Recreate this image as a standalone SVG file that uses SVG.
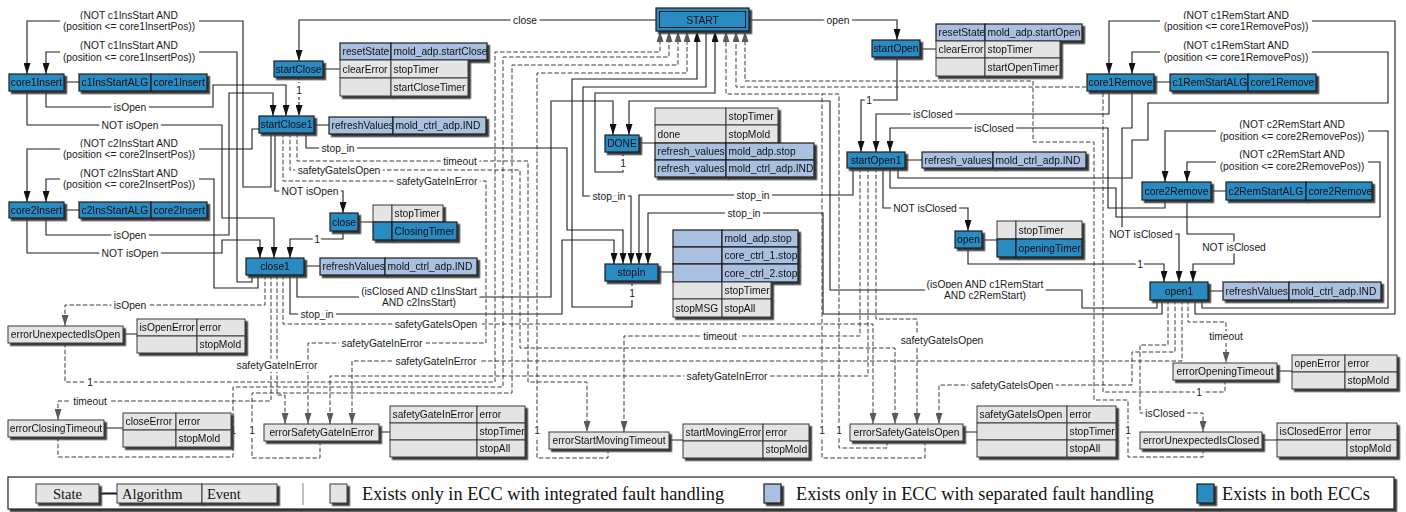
<svg xmlns="http://www.w3.org/2000/svg" width="1406" height="512" viewBox="0 0 1406 512">
<defs>
<filter id="sh" x="-10%" y="-20%" width="130%" height="170%"><feDropShadow dx="2.5" dy="2.5" stdDeviation="0" flood-color="#3c3c3c" flood-opacity="1"/></filter>
<marker id="ab" viewBox="0 0 10 10" refX="10" refY="5" markerWidth="11" markerHeight="7" markerUnits="userSpaceOnUse" orient="auto" preserveAspectRatio="none"><path d="M0,0 L10,5 L0,10 z" fill="#111"/></marker>
<marker id="ag" viewBox="0 0 10 10" refX="10" refY="5" markerWidth="11" markerHeight="7" markerUnits="userSpaceOnUse" orient="auto" preserveAspectRatio="none"><path d="M0,0 L10,5 L0,10 z" fill="#5a5a5a"/></marker>
<style>
.st{fill:#2a8ac2;stroke:#1b1b1b;stroke-width:1.2}
.lb{fill:#a9c0e0;stroke:#1b1b1b;stroke-width:1.2}
.gy{fill:#e4e4e4;stroke:#3a3a3a;stroke-width:1}
.t{font-family:"Liberation Sans",Arial,sans-serif;font-size:10.25px;fill:#111}
.c{text-anchor:middle}
.l{font-family:"Liberation Sans",Arial,sans-serif;font-size:10.25px;fill:#1a1a1a;text-anchor:middle;stroke:#fff;stroke-width:6;stroke-linejoin:round;paint-order:stroke}
.w{fill:none;stroke:#1e1e1e;stroke-width:1.1}
.wa{marker-end:url(#ab)}
.d{fill:none;stroke:#3a3a3a;stroke-width:1;stroke-dasharray:4.5 2.2}
.da{marker-end:url(#ag)}
.sw{filter:url(#sh)}
.bg{fill:#fff}
.lg{font-family:"Liberation Serif","Times New Roman",serif;fill:#111}
</style>
</defs>
<rect width="1406" height="512" fill="#fff"/>

<g id="connectors">
<path class="w wa" d="M656,20 H299 V61"/>
<path class="w wa" d="M749,20 H897 V40"/>
<path class="w wa" d="M299,77 V116" style="stroke-dasharray:3 2"/>
<path class="w wa" d="M897,57 V100 H861 V152"/>
<path class="w wa" d="M271,133 V187 H243 V21 H27 V74"/>
<path class="w wa" d="M252,275 V282 H237 V52 H46 V74"/>
<path class="w wa" d="M259,129 H252 V149 H27 V202"/>
<path class="w wa" d="M258,275 V288 H214 V179 H46 V202"/>
<path class="w wa" d="M46,91 V107 H213 V85 H286 V116"/>
<path class="w wa" d="M27,91 V125 H222 V218 H274 V258"/>
<path class="w wa" d="M46,218 V235 H229 V93 H273 V116"/>
<path class="w wa" d="M27,218 V253 H222 V240 H260 V258"/>
<path class="w wa" d="M275,133 V191 H343 V213"/>
<path class="w wa" d="M343,231 V239 H290 V258"/>
<path class="w wa" d="M306,133 V148 H567 V230 H623 V264"/>
<path class="w wa" d="M290,275 V314 H562 V240 H614 V264"/>
<path class="w wa" d="M706,31 V87 H583 V196 H631 V264"/>
<path class="w wa" d="M853,168 V195 H639 V264"/>
<path class="w wa" d="M1162,300 V314 H823 V213 H648 V264"/>
<path class="w wa" d="M1157,300 V308 H1082 V290 H830 V101 H629 V135"/>
<path class="w wa" d="M297,275 V297 H551 V101 H613 V135"/>
<path class="w wa" d="M632,281 V307 H572 V79 H697 V31"/>
<path class="w wa" d="M623,152 V172 H595 V93 H715 V31"/>
<path class="w wa" d="M883,168 V208 H968 V231"/>
<path class="w wa" d="M968,248 V264 H1164 V282"/>
<path class="w wa" d="M1109,91 V114 H876 V152"/>
<path class="w wa" d="M1165,200 V208 H1108 V128 H890 V152"/>
<path class="w wa" d="M1132,91 V128 H1122 V234 H1179 V282"/>
<path class="w wa" d="M1187,200 V234 H1234 V264 H1193 V282"/>
<path class="w wa" d="M898,168 V178 H1132 V140 H1148 V103 H1388 V52 H1132 V74"/>
<path class="w wa" d="M1195,300 V314 H1395 V21 H1109 V74"/>
<path class="w wa" d="M1202,300 V308 H1388 V131 H1165 V182"/>
<path class="w wa" d="M890,168 V188 H1116 V217 H1380 V162 H1187 V182"/>

<path class="d da" d="M297,133 V161 H528 V382 H587 V432"/>
<path class="d da" d="M290,133 V170 H520 V348 H895 V424"/>
<path class="d da" d="M283,133 V181 H486 V343 H308 V424"/>
<path class="d da" d="M265,275 V305 H65 V326"/>
<path class="d da" d="M271,275 V401 H58 V420"/>
<path class="d da" d="M277,275 V395 H285 V424"/>
<path class="d da" d="M283,275 V324 H873 V424"/>
<path class="d da" d="M860,168 V336 H624 V432"/>
<path class="d da" d="M868,168 V376 H330 V424"/>
<path class="d da" d="M876,168 V319 H917 V424"/>
<path class="d da" d="M1168,300 V345 H1140 V413 H1203 V432"/>
<path class="d da" d="M1175,300 V352 H1132 V385 H939 V424"/>
<path class="d da" d="M1182,300 V361 H352 V424"/>
<path class="d da" d="M1188,300 V322 H1226 V363"/>
<path class="d da" d="M65,343 V382 H495 V52 H660 V31"/>
<path class="d da" d="M58,437 V457 H233 V387 H503 V57 H669 V31"/>
<path class="d da" d="M320,441 V458 H252 V393 H512 V65 H678 V31"/>
<path class="d da" d="M608,449 V458 H537 V73 H687 V31"/>
<path class="d da" d="M887,441 V448 H839 V94 H726 V31"/>
<path class="d" d="M925,441 V458 H822 V94"/>
<path class="d da" d="M1225,380 V392 H1103 V87 H736 V31"/>
<path class="d da" d="M1203,449 V457 H1128 V400 H1094 V142 H1033 V81 H745 V31"/>

<path class="w" d="M323,69 H340 M920,49 H936 M64,82 H79 M64,210 H79 M1154,82 H1170 M1211,191 H1226 M314,125 H329 M905,160 H922 M304,266 H320 M1208,291 H1223 M639,143 H655 M658,272 H673 M358,222 H373 M982,240 H997 M123,334 H137 M104,428 H123 M379,432 H390 M669,440 H683 M963,432 H977 M1277,371 H1292 M1262,440 H1277"/>

<rect class="bg" x="60" y="10" width="139" height="23"/>
<rect class="bg" x="60" y="40" width="139" height="23"/>
<rect class="bg" x="60" y="138" width="139" height="23"/>
<rect class="bg" x="60" y="168" width="139" height="23"/>
<rect class="bg" x="1160" y="10" width="152" height="23"/>
<rect class="bg" x="1160" y="40" width="152" height="23"/>
<rect class="bg" x="1216" y="119" width="152" height="24"/>
<rect class="bg" x="1216" y="149" width="152" height="24"/>
<rect class="bg" x="359" y="284" width="120" height="24"/>
<rect class="bg" x="925" y="278" width="120" height="24"/>

<text class="l" x="525" y="23.6">close</text>
<text class="l" x="838" y="23.6">open</text>
<text class="l" x="129" y="18.6">(NOT c1InsStart AND</text>
<text class="l" x="129" y="29.6">(position &lt;= core1InsertPos))</text>
<text class="l" x="129" y="48.6">(NOT c1InsStart AND</text>
<text class="l" x="129" y="60.6">(position &lt;= core1InsertPos))</text>
<text class="l" x="129" y="146.6">(NOT c2InsStart AND</text>
<text class="l" x="129" y="157.6">(position &lt;= core2InsertPos))</text>
<text class="l" x="129" y="176.6">(NOT c2InsStart AND</text>
<text class="l" x="129" y="187.6">(position &lt;= core2InsertPos))</text>
<text class="l" x="130" y="110.6">isOpen</text>
<text class="l" x="130" y="128.6">NOT isOpen</text>
<text class="l" x="130" y="238.6">isOpen</text>
<text class="l" x="130" y="256.6">NOT isOpen</text>
<text class="l" x="299" y="93.6">1</text>
<text class="l" x="310" y="194.6">NOT isOpen</text>
<text class="l" x="317" y="242.6">1</text>
<text class="l" x="338" y="151.6">stop_in</text>
<text class="l" x="317" y="317.6">stop_in</text>
<text class="l" x="609" y="199.6">stop_in</text>
<text class="l" x="753" y="198.6">stop_in</text>
<text class="l" x="744" y="216.6">stop_in</text>
<text class="l" x="985" y="287.6">(isOpen AND c1RemStart</text>
<text class="l" x="985" y="298.6">AND c2RemStart)</text>
<text class="l" x="419" y="294.6">(isClosed AND c1InsStart</text>
<text class="l" x="419" y="305.6">AND c2InsStart)</text>
<text class="l" x="632" y="296.6">1</text>
<text class="l" x="623" y="166.6">1</text>
<text class="l" x="925" y="211.6">NOT isClosed</text>
<text class="l" x="1140" y="267.6">1</text>
<text class="l" x="933" y="117.6">isClosed</text>
<text class="l" x="994" y="131.6">isClosed</text>
<text class="l" x="1141" y="237.6">NOT isClosed</text>
<text class="l" x="1234" y="250.6">NOT isClosed</text>
<text class="l" x="869" y="103.6">1</text>
<text class="l" x="1236" y="18.6">(NOT c1RemStart AND</text>
<text class="l" x="1236" y="29.6">(position &lt;= core1RemovePos))</text>
<text class="l" x="1236" y="48.6">(NOT c1RemStart AND</text>
<text class="l" x="1236" y="60.6">(position &lt;= core1RemovePos))</text>
<text class="l" x="1292" y="127.6">(NOT c2RemStart AND</text>
<text class="l" x="1292" y="139.6">(position &lt;= core2RemovePos))</text>
<text class="l" x="1292" y="157.6">(NOT c2RemStart AND</text>
<text class="l" x="1292" y="169.6">(position &lt;= core2RemovePos))</text>
<text class="l" x="460" y="164.6">timeout</text>
<text class="l" x="339" y="173.6">safetyGateIsOpen</text>
<text class="l" x="437" y="184.6">safetyGateInError</text>
<text class="l" x="382" y="346.6">safetyGateInError</text>
<text class="l" x="130" y="308.6">isOpen</text>
<text class="l" x="90" y="404.6">timeout</text>
<text class="l" x="277" y="368.6">safetyGateInError</text>
<text class="l" x="436" y="327.6">safetyGateIsOpen</text>
<text class="l" x="720" y="339.6">timeout</text>
<text class="l" x="727" y="379.6">safetyGateInError</text>
<text class="l" x="942" y="343.6">safetyGateIsOpen</text>
<text class="l" x="1165" y="416.6">isClosed</text>
<text class="l" x="1012" y="388.6">safetyGateIsOpen</text>
<text class="l" x="436" y="364.6">safetyGateInError</text>
<text class="l" x="1226" y="339.6">timeout</text>
<text class="l" x="90" y="385.6">1</text>
<text class="l" x="233" y="433.6">1</text>
<text class="l" x="252" y="433.6">1</text>
<text class="l" x="537" y="433.6">1</text>
<text class="l" x="822" y="433.6">1</text>
<text class="l" x="839" y="433.6">1</text>
<text class="l" x="1199" y="395.6">1</text>
<text class="l" x="1128" y="433.6">1</text>
</g>

<g id="START" class="sw"><rect class="st" x="656" y="8" width="93" height="23"/><rect x="659.5" y="11.5" width="86" height="16" fill="none" stroke="#1b1b1b" stroke-width="1"/><text class="t c" x="702.5" y="23.6">START</text></g>
<g id="startClose" class="sw"><rect class="st" x="274" y="61" width="49" height="16"/><text class="t c" x="298.5" y="72.6">startClose</text></g>
<g id="startOpen" class="sw"><rect class="st" x="872" y="40" width="48" height="17"/><text class="t c" x="896" y="52.1">startOpen</text></g>
<g id="core1Insert" class="sw"><rect class="st" x="9" y="74" width="55" height="17"/><text class="t c" x="36.5" y="86.1">core1Insert</text></g>
<g id="core1Remove" class="sw"><rect class="st" x="1087" y="74" width="67" height="17"/><text class="t c" x="1120.5" y="86.1">core1Remove</text></g>
<g id="startClose1" class="sw"><rect class="st" x="259" y="116" width="55" height="17"/><text class="t c" x="286.5" y="128.1">startClose1</text></g>
<g id="DONE" class="sw"><rect class="st" x="605" y="135" width="34" height="17"/><text class="t c" x="622" y="147.1">DONE</text></g>
<g id="startOpen1" class="sw"><rect class="st" x="847" y="152" width="58" height="16"/><text class="t c" x="876" y="163.6">startOpen1</text></g>
<g id="core2Insert" class="sw"><rect class="st" x="9" y="202" width="55" height="16"/><text class="t c" x="36.5" y="213.6">core2Insert</text></g>
<g id="core2Remove" class="sw"><rect class="st" x="1142" y="182" width="69" height="18"/><text class="t c" x="1176.5" y="194.6">core2Remove</text></g>
<g id="close" class="sw"><rect class="st" x="330" y="213" width="28" height="18"/><text class="t c" x="344" y="225.6">close</text></g>
<g id="open" class="sw"><rect class="st" x="955" y="231" width="27" height="17"/><text class="t c" x="968.5" y="243.1">open</text></g>
<g id="close1" class="sw"><rect class="st" x="246" y="258" width="58" height="17"/><text class="t c" x="275" y="270.1">close1</text></g>
<g id="stopIn" class="sw"><rect class="st" x="605" y="264" width="53" height="17"/><text class="t c" x="631.5" y="276.1">stopIn</text></g>
<g id="open1" class="sw"><rect class="st" x="1150" y="282" width="58" height="18"/><text class="t c" x="1179" y="294.6">open1</text></g>

<g id="errorUnexpectedIsOpen" class="sw"><rect class="gy" x="8" y="326" width="115" height="17"/><text class="t c" x="65.5" y="338.1">errorUnexpectedIsOpen</text></g>
<g id="errorClosingTimeout" class="sw"><rect class="gy" x="8" y="420" width="96" height="17"/><text class="t c" x="56" y="432.1">errorClosingTimeout</text></g>
<g id="errorSafetyGateInError" class="sw"><rect class="gy" x="264" y="424" width="115" height="17"/><text class="t c" x="321.5" y="436.1">errorSafetyGateInError</text></g>
<g id="errorStartMovingTimeout" class="sw"><rect class="gy" x="549" y="432" width="120" height="17"/><text class="t c" x="609" y="444.1">errorStartMovingTimeout</text></g>
<g id="errorSafetyGateIsOpen" class="sw"><rect class="gy" x="850" y="424" width="113" height="17"/><text class="t c" x="906.5" y="436.1">errorSafetyGateIsOpen</text></g>
<g id="errorOpeningTimeout" class="sw"><rect class="gy" x="1173" y="363" width="104" height="17"/><text class="t c" x="1225" y="375.1">errorOpeningTimeout</text></g>
<g id="errorUnexpectedIsClosed" class="sw"><rect class="gy" x="1140" y="432" width="122" height="17"/><text class="t c" x="1201" y="444.1">errorUnexpectedIsClosed</text></g>

<g id="alg-core1Insert" class="sw"><rect class="st" x="79" y="74" width="72" height="17"/><text class="t" x="81.5" y="86.1">c1InsStartALG</text><rect class="st" x="151" y="74" width="56" height="17"/><text class="t" x="153.5" y="86.1">core1Insert</text></g>
<g id="alg-core2Insert" class="sw"><rect class="st" x="79" y="202" width="72" height="16"/><text class="t" x="81.5" y="213.6">c2InsStartALG</text><rect class="st" x="151" y="202" width="56" height="16"/><text class="t" x="153.5" y="213.6">core2Insert</text></g>
<g id="alg-core1Remove" class="sw"><rect class="st" x="1170" y="74" width="78" height="17"/><text class="t" x="1172.5" y="86.1">c1RemStartALG</text><rect class="st" x="1248" y="74" width="68" height="17"/><text class="t" x="1250.5" y="86.1">core1Remove</text></g>
<g id="alg-core2Remove" class="sw"><rect class="st" x="1226" y="182" width="80" height="18"/><text class="t" x="1228.5" y="194.6">c2RemStartALG</text><rect class="st" x="1306" y="182" width="66" height="18"/><text class="t" x="1308.5" y="194.6">core2Remove</text></g>

<g id="tbl-startClose" class="sw">
<rect class="lb" x="340" y="43" width="51" height="17"/><text class="t" x="342.5" y="55.1">resetState</text>
<rect class="lb" x="391" y="43" width="96" height="17"/><text class="t" x="393.5" y="55.1">mold_adp.startClose</text>
<rect class="gy" x="340" y="60" width="51" height="18"/><text class="t" x="342.5" y="72.6">clearError</text>
<rect class="gy" x="391" y="60" width="77" height="18"/><text class="t" x="393.5" y="72.6">stopTimer</text>
<rect class="gy" x="340" y="78" width="51" height="18"/>
<rect class="gy" x="391" y="78" width="77" height="18"/><text class="t" x="393.5" y="90.6">startCloseTimer</text>
</g>
<g id="tbl-startOpen" class="sw">
<rect class="lb" x="936" y="24" width="49" height="17"/><text class="t" x="938.5" y="36.1">resetState</text>
<rect class="lb" x="985" y="24" width="97" height="17"/><text class="t" x="987.5" y="36.1">mold_adp.startOpen</text>
<rect class="gy" x="936" y="41" width="49" height="17"/><text class="t" x="938.5" y="53.1">clearError</text>
<rect class="gy" x="985" y="41" width="75" height="17"/><text class="t" x="987.5" y="53.1">stopTimer</text>
<rect class="gy" x="936" y="58" width="49" height="18"/>
<rect class="gy" x="985" y="58" width="75" height="18"/><text class="t" x="987.5" y="70.6">startOpenTimer</text>
</g>
<g id="tbl-startClose1" class="sw"><rect class="lb" x="329" y="117" width="64" height="17"/><text class="t" x="331.5" y="129.1">refreshValues</text><rect class="lb" x="393" y="117" width="93" height="17"/><text class="t" x="395.5" y="129.1">mold_ctrl_adp.IND</text></g>
<g id="tbl-startOpen1" class="sw"><rect class="lb" x="922" y="152" width="71" height="16"/><text class="t" x="924.5" y="163.6">refresh_values</text><rect class="lb" x="993" y="152" width="93" height="16"/><text class="t" x="995.5" y="163.6">mold_ctrl_adp.IND</text></g>
<g id="tbl-close1" class="sw"><rect class="lb" x="320" y="258" width="65" height="17"/><text class="t" x="322.5" y="270.1">refreshValues</text><rect class="lb" x="385" y="258" width="92" height="17"/><text class="t" x="387.5" y="270.1">mold_ctrl_adp.IND</text></g>
<g id="tbl-open1" class="sw"><rect class="lb" x="1223" y="282" width="66" height="18"/><text class="t" x="1225.5" y="294.6">refreshValues</text><rect class="lb" x="1289" y="282" width="92" height="18"/><text class="t" x="1291.5" y="294.6">mold_ctrl_adp.IND</text></g>
<g id="tbl-DONE" class="sw">
<rect class="gy" x="655" y="108" width="71" height="17"/><rect class="gy" x="726" y="108" width="52" height="17"/><text class="t" x="728.5" y="120.1">stopTimer</text>
<rect class="gy" x="655" y="125" width="71" height="18"/><text class="t" x="657.5" y="137.6">done</text><rect class="gy" x="726" y="125" width="52" height="18"/><text class="t" x="728.5" y="137.6">stopMold</text>
<rect class="lb" x="655" y="143" width="71" height="17"/><text class="t" x="657.5" y="155.1">refresh_values</text><rect class="lb" x="726" y="143" width="88" height="17"/><text class="t" x="728.5" y="155.1">mold_adp.stop</text>
<rect class="lb" x="655" y="160" width="71" height="17"/><text class="t" x="657.5" y="172.1">refresh_values</text><rect class="lb" x="726" y="160" width="88" height="17"/><text class="t" x="728.5" y="172.1">mold_ctrl_adp.IND</text>
</g>
<g id="tbl-close" class="sw">
<rect class="gy" x="373" y="205" width="19" height="17"/><rect class="gy" x="392" y="205" width="51" height="17"/><text class="t" x="394.5" y="217.1">stopTimer</text>
<rect class="st" x="373" y="222" width="19" height="18"/><rect class="st" x="392" y="222" width="65" height="18"/><text class="t" x="394.5" y="234.6">ClosingTimer</text>
</g>
<g id="tbl-open" class="sw">
<rect class="gy" x="997" y="221" width="19" height="18"/><rect class="gy" x="1016" y="221" width="66" height="18"/><text class="t" x="1018.5" y="233.6">stopTimer</text>
<rect class="st" x="997" y="239" width="19" height="18"/><rect class="st" x="1016" y="239" width="66" height="18"/><text class="t" x="1018.5" y="251.6">openingTimer</text>
</g>
<g id="tbl-stopIn" class="sw">
<rect class="lb" x="673" y="230" width="49" height="17"/><rect class="lb" x="722" y="230" width="76" height="17"/><text class="t" x="724.5" y="242.1">mold_adp.stop</text>
<rect class="lb" x="673" y="247" width="49" height="17"/><rect class="lb" x="722" y="247" width="76" height="17"/><text class="t" x="724.5" y="259.1">core_ctrl_1.stop</text>
<rect class="lb" x="673" y="264" width="49" height="18"/><rect class="lb" x="722" y="264" width="76" height="18"/><text class="t" x="724.5" y="276.6">core_ctrl_2.stop</text>
<rect class="gy" x="673" y="282" width="49" height="17"/><rect class="gy" x="722" y="282" width="49" height="17"/><text class="t" x="724.5" y="294.1">stopTimer</text>
<rect class="gy" x="673" y="299" width="49" height="18"/><text class="t" x="675.5" y="311.6">stopMSG</text><rect class="gy" x="722" y="299" width="49" height="18"/><text class="t" x="724.5" y="311.6">stopAll</text>
</g>
<g id="tbl-errorUnexpectedIsOpen" class="sw">
<rect class="gy" x="137" y="319" width="60" height="17"/><text class="t" x="139.5" y="331.1">isOpenError</text><rect class="gy" x="197" y="319" width="48" height="17"/><text class="t" x="199.5" y="331.1">error</text>
<rect class="gy" x="137" y="336" width="60" height="17"/><rect class="gy" x="197" y="336" width="48" height="17"/><text class="t" x="199.5" y="348.1">stopMold</text>
</g>
<g id="tbl-errorClosingTimeout" class="sw">
<rect class="gy" x="123" y="413" width="53" height="17"/><text class="t" x="125.5" y="425.1">closeError</text><rect class="gy" x="176" y="413" width="55" height="17"/><text class="t" x="178.5" y="425.1">error</text>
<rect class="gy" x="123" y="430" width="53" height="17"/><rect class="gy" x="176" y="430" width="55" height="17"/><text class="t" x="178.5" y="442.1">stopMold</text>
</g>
<g id="tbl-errorSafetyGateInError" class="sw">
<rect class="gy" x="390" y="406" width="87" height="17"/><text class="t" x="392.5" y="418.1">safetyGateInError</text><rect class="gy" x="477" y="406" width="48" height="17"/><text class="t" x="479.5" y="418.1">error</text>
<rect class="gy" x="390" y="423" width="87" height="17"/><rect class="gy" x="477" y="423" width="48" height="17"/><text class="t" x="479.5" y="435.1">stopTimer</text>
<rect class="gy" x="390" y="440" width="87" height="17"/><rect class="gy" x="477" y="440" width="48" height="17"/><text class="t" x="479.5" y="452.1">stopAll</text>
</g>
<g id="tbl-errorStartMovingTimeout" class="sw">
<rect class="gy" x="683" y="424" width="80" height="17"/><text class="t" x="685.5" y="436.1">startMovingError</text><rect class="gy" x="763" y="424" width="46" height="17"/><text class="t" x="765.5" y="436.1">error</text>
<rect class="gy" x="683" y="441" width="80" height="17"/><rect class="gy" x="763" y="441" width="46" height="17"/><text class="t" x="765.5" y="453.1">stopMold</text>
</g>
<g id="tbl-errorSafetyGateIsOpen" class="sw">
<rect class="gy" x="977" y="406" width="90" height="17"/><text class="t" x="979.5" y="418.1">safetyGateIsOpen</text><rect class="gy" x="1067" y="406" width="49" height="17"/><text class="t" x="1069.5" y="418.1">error</text>
<rect class="gy" x="977" y="423" width="90" height="17"/><rect class="gy" x="1067" y="423" width="49" height="17"/><text class="t" x="1069.5" y="435.1">stopTimer</text>
<rect class="gy" x="977" y="440" width="90" height="17"/><rect class="gy" x="1067" y="440" width="49" height="17"/><text class="t" x="1069.5" y="452.1">stopAll</text>
</g>
<g id="tbl-errorOpeningTimeout" class="sw">
<rect class="gy" x="1292" y="355" width="53" height="17"/><text class="t" x="1294.5" y="367.1">openError</text><rect class="gy" x="1345" y="355" width="52" height="17"/><text class="t" x="1347.5" y="367.1">error</text>
<rect class="gy" x="1292" y="372" width="53" height="17"/><rect class="gy" x="1345" y="372" width="52" height="17"/><text class="t" x="1347.5" y="384.1">stopMold</text>
</g>
<g id="tbl-errorUnexpectedIsClosed" class="sw">
<rect class="gy" x="1277" y="423" width="70" height="17"/><text class="t" x="1279.5" y="435.1">isClosedError</text><rect class="gy" x="1347" y="423" width="50" height="17"/><text class="t" x="1349.5" y="435.1">error</text>
<rect class="gy" x="1277" y="440" width="70" height="17"/><rect class="gy" x="1347" y="440" width="50" height="17"/><text class="t" x="1349.5" y="452.1">stopMold</text>
</g>

<g id="legend">
<rect x="8" y="477" width="1386" height="32" fill="#fff" stroke="#222" stroke-width="1.2" class="sw"/>
<path d="M99,493.5 H117" stroke="#1b1b1b" stroke-width="2"/>
<g class="sw"><rect class="gy" x="36" y="484" width="63" height="19"/></g>
<g class="sw"><rect class="gy" x="117" y="484" width="85" height="19"/><rect class="gy" x="202" y="484" width="75" height="19"/></g>
<text class="lg" x="67.5" y="498.5" font-size="14.5" text-anchor="middle">State</text>
<text class="lg" x="122" y="498.5" font-size="14.5">Algorithm</text>
<text class="lg" x="207" y="498.5" font-size="14.5">Event</text>
<path d="M303,483 V505" stroke="#999" stroke-width="1.2"/>
<g class="sw"><rect class="gy" x="330" y="484" width="17" height="19"/></g>
<text class="lg" x="362" y="499.5" font-size="18.3">Exists only in ECC with integrated fault handling</text>
<g class="sw"><rect class="lb" x="764" y="484" width="17" height="19"/></g>
<text class="lg" x="796" y="499.5" font-size="18.3">Exists only in ECC with separated fault handling</text>
<g class="sw"><rect class="st" x="1197" y="484" width="17" height="19"/></g>
<text class="lg" x="1222" y="499.5" font-size="18.3">Exists in both ECCs</text>
</g>
</svg>
